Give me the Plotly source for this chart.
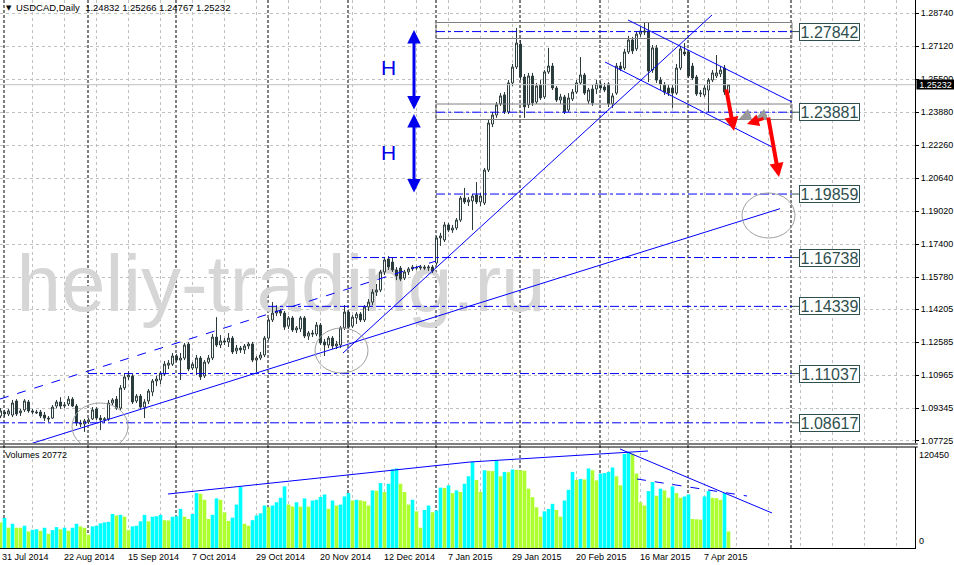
import plotly.graph_objects as go

# ---------------- data ----------------
open_ = [
1.0895, 1.0915, 1.0905, 1.0900, 1.0969, 1.0911, 1.0925, 1.0964, 1.0920, 1.0915,
1.0915, 1.0900, 1.0885, 1.0885, 1.0944, 1.0964, 1.0944, 1.0954, 1.0978, 1.0944,
1.0861, 1.0856, 1.0866, 1.0881, 1.0930, 1.0885, 1.0876, 1.0881, 1.0959, 1.0978,
1.0934, 1.1033, 1.1087, 1.1092, 1.0969, 1.0993, 1.0939, 1.0969, 1.1013, 1.1067,
1.1072, 1.1101, 1.1145, 1.1150, 1.1190, 1.1170, 1.1180, 1.1249, 1.1131, 1.1131,
1.1180, 1.1092, 1.1160, 1.1180, 1.1283, 1.1244, 1.1264, 1.1259, 1.1278, 1.1215,
1.1229, 1.1220, 1.1239, 1.1249, 1.1170, 1.1180, 1.1195, 1.1278, 1.1367, 1.1401,
1.1411, 1.1401, 1.1337, 1.1377, 1.1318, 1.1323, 1.1377, 1.1288, 1.1303, 1.1298,
1.1342, 1.1259, 1.1244, 1.1278, 1.1239, 1.1244, 1.1328, 1.1406, 1.1337, 1.1377,
1.1396, 1.1367, 1.1431, 1.1455, 1.1504, 1.1514, 1.1603, 1.1667, 1.1652, 1.1613,
1.1622, 1.1573, 1.1603, 1.1618, 1.1622, 1.1622, 1.1627, 1.1622, 1.1627, 1.1647,
1.1770, 1.1760, 1.1834, 1.1809, 1.1819, 1.1858, 1.1966, 1.1947, 1.1952, 1.1981,
1.1947, 1.1942, 1.2104, 1.2330, 1.2374, 1.2429, 1.2473, 1.2389, 1.2532, 1.2610,
1.2723, 1.2561, 1.2424, 1.2566, 1.2438, 1.2522, 1.2463, 1.2586, 1.2615, 1.2507,
1.2448, 1.2463, 1.2399, 1.2453, 1.2487, 1.2532, 1.2571, 1.2443, 1.2502, 1.2502,
1.2527, 1.2512, 1.2527, 1.2429, 1.2482, 1.2615, 1.2605, 1.2684, 1.2743, 1.2699,
1.2772, 1.2787, 1.2787, 1.2595, 1.2704, 1.2546, 1.2522, 1.2507, 1.2507, 1.2482,
1.2605, 1.2684, 1.2684, 1.2615, 1.2561, 1.2478, 1.2473, 1.2497, 1.2546, 1.2566,
1.2576, 1.2605, 1.24832]

high = [
1.0934, 1.0925, 1.0930, 1.0974, 1.0978, 1.0930, 1.0978, 1.0974, 1.0930, 1.0925,
1.0925, 1.0915, 1.0895, 1.0949, 1.0974, 1.0988, 1.0964, 1.0993, 1.0988, 1.0954,
1.0876, 1.0881, 1.0885, 1.0939, 1.0939, 1.0900, 1.0890, 1.0974, 1.0983, 1.0993,
1.1047, 1.1101, 1.1116, 1.1101, 1.1003, 1.1003, 1.0978, 1.1028, 1.1077, 1.1092,
1.1116, 1.1165, 1.1170, 1.1205, 1.1200, 1.1205, 1.1254, 1.1259, 1.1160, 1.1195,
1.1190, 1.1170, 1.1195, 1.1298, 1.1381, 1.1293, 1.1278, 1.1303, 1.1288, 1.1244,
1.1239, 1.1249, 1.1259, 1.1259, 1.1190, 1.1210, 1.1288, 1.1377, 1.1455, 1.1440,
1.1421, 1.1411, 1.1386, 1.1386, 1.1337, 1.1386, 1.1386, 1.1313, 1.1318, 1.1357,
1.1352, 1.1274, 1.1288, 1.1288, 1.1264, 1.1337, 1.1440, 1.1416, 1.1391, 1.1406,
1.1406, 1.1440, 1.1470, 1.1519, 1.1544, 1.1613, 1.1677, 1.1681, 1.1672, 1.1627,
1.1632, 1.1613, 1.1627, 1.1637, 1.1632, 1.1637, 1.1637, 1.1637, 1.1637, 1.1780,
1.1795, 1.1849, 1.1844, 1.1834, 1.1868, 1.1976, 1.2016, 1.1971, 1.1986, 1.2045,
1.1991, 1.2114, 1.2350, 1.2389, 1.2438, 1.2482, 1.2487, 1.2546, 1.2625, 1.2802,
1.2743, 1.2576, 1.2581, 1.2581, 1.2532, 1.2546, 1.2595, 1.2704, 1.2630, 1.2517,
1.2478, 1.2473, 1.2482, 1.2502, 1.2546, 1.2659, 1.2581, 1.2507, 1.2522, 1.2546,
1.2541, 1.2532, 1.2536, 1.2482, 1.2630, 1.2635, 1.2699, 1.2763, 1.2758, 1.2787,
1.2807, 1.2831, 1.2831, 1.2718, 1.2718, 1.2561, 1.2536, 1.2522, 1.2522, 1.2625,
1.2713, 1.2728, 1.2694, 1.2630, 1.2571, 1.2497, 1.2522, 1.2556, 1.2595, 1.2669,
1.2615, 1.2620, 1.25266]

low = [
1.0885, 1.0890, 1.0895, 1.0890, 1.0895, 1.0895, 1.0915, 1.0911, 1.0905, 1.0905,
1.0885, 1.0871, 1.0866, 1.0881, 1.0934, 1.0930, 1.0934, 1.0944, 1.0939, 1.0846,
1.0841, 1.0817, 1.0856, 1.0876, 1.0876, 1.0826, 1.0861, 1.0871, 1.0949, 1.0925,
1.0925, 1.1023, 1.1072, 1.0954, 1.0959, 1.0930, 1.0885, 1.0954, 1.0993, 1.1042,
1.1052, 1.1092, 1.1126, 1.1141, 1.1160, 1.1072, 1.1170, 1.1116, 1.1121, 1.1096,
1.1072, 1.1082, 1.1150, 1.1170, 1.1234, 1.1229, 1.1244, 1.1234, 1.1200, 1.1200,
1.1205, 1.1200, 1.1224, 1.1160, 1.1111, 1.1170, 1.1185, 1.1269, 1.1357, 1.1386,
1.1386, 1.1318, 1.1323, 1.1308, 1.1303, 1.1308, 1.1278, 1.1269, 1.1283, 1.1288,
1.1244, 1.1190, 1.1229, 1.1224, 1.1224, 1.1229, 1.1318, 1.1323, 1.1328, 1.1347,
1.1357, 1.1357, 1.1411, 1.1440, 1.1485, 1.1504, 1.1588, 1.1613, 1.1603, 1.1563,
1.1558, 1.1563, 1.1588, 1.1608, 1.1613, 1.1613, 1.1613, 1.1608, 1.1598, 1.1637,
1.1731, 1.1750, 1.1799, 1.1795, 1.1809, 1.1849, 1.1937, 1.1927, 1.1809, 1.1937,
1.1927, 1.1932, 1.2094, 1.2315, 1.2360, 1.2419, 1.2379, 1.2379, 1.2517, 1.2600,
1.2546, 1.2360, 1.2409, 1.2419, 1.2429, 1.2448, 1.2453, 1.2576, 1.2497, 1.2438,
1.2429, 1.2379, 1.2389, 1.2443, 1.2478, 1.2522, 1.2473, 1.2429, 1.2419, 1.2478,
1.2497, 1.2487, 1.2414, 1.2409, 1.2473, 1.2590, 1.2595, 1.2674, 1.2674, 1.2689,
1.2758, 1.2767, 1.2536, 1.2581, 1.2532, 1.2497, 1.2473, 1.2468, 1.2409, 1.2473,
1.2595, 1.2664, 1.2556, 1.2546, 1.2468, 1.2463, 1.2463, 1.2389, 1.2536, 1.2556,
1.2561, 1.2473, 1.24767]

close = [
1.0920, 1.0905, 1.0920, 1.0959, 1.0905, 1.0920, 1.0969, 1.0920, 1.0915, 1.0911,
1.0895, 1.0885, 1.0881, 1.0939, 1.0964, 1.0944, 1.0949, 1.0978, 1.0944, 1.0861,
1.0856, 1.0871, 1.0876, 1.0925, 1.0885, 1.0876, 1.0881, 1.0959, 1.0974, 1.0934,
1.1033, 1.1087, 1.1096, 1.0964, 1.0993, 1.0939, 1.0964, 1.1018, 1.1067, 1.1077,
1.1106, 1.1150, 1.1155, 1.1190, 1.1170, 1.1180, 1.1244, 1.1126, 1.1150, 1.1180,
1.1087, 1.1160, 1.1180, 1.1283, 1.1244, 1.1264, 1.1259, 1.1278, 1.1210, 1.1229,
1.1220, 1.1239, 1.1249, 1.1170, 1.1180, 1.1195, 1.1278, 1.1367, 1.1401, 1.1411,
1.1401, 1.1332, 1.1377, 1.1318, 1.1328, 1.1377, 1.1288, 1.1303, 1.1298, 1.1342,
1.1254, 1.1244, 1.1278, 1.1239, 1.1249, 1.1328, 1.1406, 1.1332, 1.1381, 1.1396,
1.1367, 1.1431, 1.1455, 1.1504, 1.1514, 1.1603, 1.1662, 1.1627, 1.1613, 1.1583,
1.1568, 1.1603, 1.1618, 1.1627, 1.1625, 1.1627, 1.1622, 1.1627, 1.1608, 1.1770,
1.1780, 1.1834, 1.1809, 1.1819, 1.1858, 1.1966, 1.1947, 1.1957, 1.1976, 1.1947,
1.1976, 1.2104, 1.2335, 1.2374, 1.2424, 1.2468, 1.2389, 1.2532, 1.2610, 1.2728,
1.2561, 1.2414, 1.2566, 1.2434, 1.2517, 1.2458, 1.2586, 1.2615, 1.2507, 1.2448,
1.2463, 1.2389, 1.2458, 1.2487, 1.2532, 1.2571, 1.2482, 1.2497, 1.2434, 1.2527,
1.2507, 1.2497, 1.2429, 1.2468, 1.2615, 1.2600, 1.2684, 1.2743, 1.2689, 1.2772,
1.2787, 1.2782, 1.2590, 1.2704, 1.2546, 1.2527, 1.2487, 1.2482, 1.2482, 1.2605,
1.2699, 1.2674, 1.2566, 1.2556, 1.2478, 1.2482, 1.2507, 1.2546, 1.2581, 1.2581,
1.2595, 1.2487, 1.25232]

volume = [
32100, 37600, 25400, 30400, 25400, 25400, 27900, 20700, 22800, 23500,
21600, 25400, 17800, 22400, 26200, 23500, 25400, 21600, 25400, 30400,
27100, 25400, 16500, 27100, 27900, 30900, 32100, 32800, 42700, 40800,
41600, 39300, 22400, 27100, 27900, 33400, 41600, 33400, 39300, 39800,
41600, 34900, 34500, 39300, 39800, 49100, 39300, 36400, 42700, 68900,
68000, 60500, 36400, 41600, 62200, 60500, 44800, 34000, 38100, 54500,
76500, 30400, 27900, 34900, 40800, 43500, 53300, 51200, 53300, 57400,
63000, 77300, 54500, 52000, 57400, 52000, 62200, 52000, 59600, 60500,
64100, 67200, 49100, 59600, 53300, 54500, 64700, 68900, 59600, 60500,
59800, 58700, 53300, 72300, 71800, 81500, 70200, 80600, 98500, 99800,
80600, 70200, 54500, 60500, 46000, 25400, 47700, 53300, 44800, 46900,
75700, 75200, 78600, 68900, 72300, 70200, 80600, 90000, 108200, 85400,
70200, 97500, 96800, 96500, 109400, 90000, 95500, 95000, 98500, 98000,
97600, 97000, 74400, 63800, 51100, 39300, 46000, 49100, 55400, 47700,
39300, 59600, 73000, 95500, 85400, 86700, 86000, 99800, 97600, 84900,
93400, 93900, 95500, 101000, 90000, 78600, 117900, 120450, 118400, 93400,
57400, 53300, 71400, 82800, 65500, 74400, 72300, 63000, 77300, 68900,
63000, 64700, 67200, 36400, 36000, 35600, 64700, 71400, 63000, 62500,
60500, 68900, 20772]

date_labels = ["31 Jul 2014", "22 Aug 2014", "15 Sep 2014", "7 Oct 2014", "29 Oct 2014",
               "20 Nov 2014", "12 Dec 2014", "7 Jan 2015", "29 Jan 2015", "20 Feb 2015",
               "16 Mar 2015", "7 Apr 2015"]
date_label_bars = [0, 16, 32, 48, 64, 80, 96, 112, 128, 144, 160, 176]
month_start_bars = [1, 22, 44, 67, 87, 109, 130, 150, 172, 197.75]

price_ticks = [1.28740, 1.27120, 1.25500, 1.23880, 1.22260, 1.20640, 1.19020,
               1.17400, 1.15780, 1.14205, 1.12585, 1.10965, 1.09345, 1.07725]
level_values = [1.27842, 1.23881, 1.19859, 1.16738, 1.14339, 1.11037, 1.08617]
level_labels = ["1.27842", "1.23881", "1.19859", "1.16738", "1.14339", "1.11037", "1.08617"]
last_ohlc = "1.24832 1.25266 1.24767 1.25232"
last_volume = 20772
volume_max_label = 120450

# ---------------- geometry helpers (screen px -> axis units) ----------------
Y_TOP = 1.29394
P_PER_PX = 0.0004914
V_PER_PX = 120450 / 96.0
PLOT_W = 915.0


def bx(px):
    return (px - 0.5) / 4.0


def pp(py):
    return Y_TOP - P_PER_PX * py


def vv(py):
    return (548 - py) * V_PER_PX


n = len(close)
bars = list(range(n))

CANDLE = "#2b3b3b"
CYAN = "#00FFFF"
LIME = "#ADFF2F"
BLUE = "#0000FF"
GRID = "#c0c0c0"
LABEL = "#2F4F4F"
FONT = "Liberation Sans, Arial, sans-serif"

vol_colors = [LIME] + [CYAN if volume[i] > volume[i - 1] else LIME for i in range(1, n)]

fig = go.Figure()

# watermark on the base subplot (below the candles)
fig.add_trace(go.Scatter(
    x=[bx(281)], y=[pp(291)], mode="text", text=["heliy-trading.ru"],
    textfont=dict(size=80, color="#d6d6d6", family=FONT),
    xaxis="x", yaxis="y", showlegend=False, hoverinfo="skip"))

fig.add_trace(go.Candlestick(
    x=bars, open=open_, high=high, low=low, close=close,
    increasing=dict(line=dict(color=CANDLE, width=1), fillcolor="white"),
    decreasing=dict(line=dict(color=CANDLE, width=1), fillcolor=CANDLE),
    whiskerwidth=0, xaxis="x", yaxis="y3", showlegend=False, hoverinfo="skip"))

fig.add_trace(go.Bar(
    x=bars, y=volume, marker=dict(color=vol_colors, line=dict(width=0)),
    xaxis="x", yaxis="y2", showlegend=False, hoverinfo="skip"))

y_range = [Y_TOP - P_PER_PX * 443, Y_TOP]
main_dom = [(548 - 443) / 548, 1]
vol_dom = [0, (548 - 447) / 548]

grid_ticks = [8 * k - 0.125 for k in range(0, 29)]

fig.update_layout(
    width=954, height=565,
    margin=dict(l=0, r=39, t=0, b=17),
    paper_bgcolor="white", plot_bgcolor="white",
    bargap=0.1, showlegend=False,
    font=dict(family=FONT, size=9, color="black"),
    xaxis=dict(domain=[0, 1], range=[-0.125, 228.625], anchor="y2",
               showgrid=True, gridcolor=GRID, griddash="3px,3px", gridwidth=1,
               tickvals=grid_ticks, showticklabels=False, ticks="",
               showline=True, linecolor="black", linewidth=1, zeroline=False,
               rangeslider=dict(visible=False), fixedrange=True),
    yaxis=dict(domain=main_dom, range=y_range, side="right", anchor="x",
               tickvals=price_ticks, ticktext=[f"{v:.5f}" for v in price_ticks],
               tickfont=dict(size=9, color="black", family=FONT),
               ticks="outside", ticklen=3, tickcolor="black",
               showgrid=True, gridcolor=GRID, griddash="3px,3px", gridwidth=1,
               showline=True, linecolor="black", linewidth=1, zeroline=False,
               fixedrange=True),
    yaxis3=dict(domain=main_dom, range=y_range, overlaying="y", side="right",
                anchor="x", visible=False, showgrid=False, zeroline=False,
                fixedrange=True),
    yaxis2=dict(domain=vol_dom, range=[0, 101 * V_PER_PX], side="right", anchor="x",
                showgrid=False, showticklabels=False, ticks="",
                showline=True, linecolor="black", linewidth=1, zeroline=False,
                fixedrange=True),
)

shapes = []
ann = []

# month separators
for b in month_start_bars:
    shapes.append(dict(type="line", xref="x", yref="paper", x0=b - 0.125, x1=b - 0.125,
                       y0=0, y1=1, line=dict(color="black", width=1, dash="3px,2px"),
                       layer="below"))

# bid line
shapes.append(dict(type="line", xref="paper", yref="y", x0=0, x1=1,
                   y0=close[-1], y1=close[-1], line=dict(color=GRID, width=1)))

# panel separator (double line)
for ypx in (444, 447):
    shapes.append(dict(type="line", xref="paper", yref="paper", x0=0, x1=1.003,
                       y0=(548 - ypx) / 548, y1=(548 - ypx) / 548,
                       line=dict(color="black", width=1)))

# gray rectangles around two levels
for (ya, yb) in ((22.5, 38.5), (104, 119.5)):
    shapes.append(dict(type="rect", xref="x", yref="y", x0=bx(436), x1=bx(792),
                       y0=pp(yb), y1=pp(ya), line=dict(color="#808080", width=1)))

# horizontal levels with labels
level_start_px = [436, 436, 436, 352, 268, 88, 0]
for val, lab, sx in zip(level_values, level_labels, level_start_px):
    shapes.append(dict(type="line", xref="x", yref="y", x0=bx(sx), x1=bx(792),
                       y0=val, y1=val, line=dict(color=BLUE, width=1, dash="dashdot")))
    shapes.append(dict(type="line", xref="x", yref="y", x0=bx(792), x1=bx(799),
                       y0=val, y1=val, line=dict(color=LABEL, width=1)))
    ann.append(dict(x=bx(829.5), y=val, xref="x", yref="y3", text=lab, showarrow=False,
                    font=dict(size=16, color=LABEL, family=FONT),
                    bgcolor="white", bordercolor=LABEL, borderwidth=1, borderpad=1,
                    width=57, height=14, xanchor="center", yanchor="middle"))

# trend lines (price panel)
line_defs = [
    ((30, 444), (780, 208.7), "solid"),
    ((0, 399), (436, 261), "dash"),
    ((343, 353), (712, 15), "solid"),
    ((628, 20), (792, 102), "solid"),
    ((605, 62), (772, 147), "solid"),
]
for (p0, p1, dsh) in line_defs:
    shapes.append(dict(type="line", xref="x", yref="y", x0=bx(p0[0]), y0=pp(p0[1]),
                       x1=bx(p1[0]), y1=pp(p1[1]),
                       line=dict(color=BLUE, width=1, dash=dsh)))

# ellipses
for (xa, xb, ya, yb) in ((72, 128, 403, 450), (315, 368, 328, 373), (742, 795, 193, 238)):
    shapes.append(dict(type="circle", xref="x", yref="y", x0=bx(xa), x1=bx(xb),
                       y0=pp(yb), y1=pp(ya), line=dict(color="#a0a0a0", width=1)))

# volume trend lines
vol_lines = [
    ((168, 494), (470, 462), "solid"),
    ((470, 462), (648, 451), "solid"),
    ((620, 449), (772, 513), "solid"),
    ((637, 479), (747, 496), "dash"),
]
for (p0, p1, dsh) in vol_lines:
    shapes.append(dict(type="line", xref="x", yref="y2", x0=bx(p0[0]), y0=vv(p0[1]),
                       x1=bx(p1[0]), y1=vv(p1[1]),
                       line=dict(color=BLUE, width=1, dash=dsh)))

# H double arrows
for (ytop, ybot) in ((30, 111), (114, 194)):
    ann.append(dict(x=bx(414), y=pp(ytop), ax=bx(414), ay=pp(ybot), xref="x", yref="y3",
                    axref="x", ayref="y3", text="", showarrow=True,
                    arrowside="end+start", arrowhead=2, startarrowhead=2,
                    arrowsize=0.9, startarrowsize=0.9, arrowwidth=3, arrowcolor="#0000EE",
                    standoff=0, startstandoff=0))
for ymid in (67, 152):
    ann.append(dict(x=bx(388), y=pp(ymid), xref="x", yref="y3", text="H",
                    showarrow=False, font=dict(size=21, color="#0000EE", family=FONT)))

# gray + red arrows
arrow_defs = [
    ((768, 114), (755, 119), "#999999", 3, 0.8),
    ((752, 114), (739, 119), "#999999", 3, 0.8),
    ((726, 88), (734, 131), "#FF0000", 4, 0.7),
    ((765, 118), (747, 124), "#FF0000", 3, 0.8),
    ((768, 116), (779, 177), "#FF0000", 4, 0.7),
]
for (t, h, col, w, sz) in arrow_defs:
    ann.append(dict(x=bx(h[0]), y=pp(h[1]), ax=bx(t[0]), ay=pp(t[1]), xref="x", yref="y3",
                    axref="x", ayref="y3", text="", showarrow=True, arrowhead=2,
                    arrowsize=sz, arrowwidth=w, arrowcolor=col, standoff=0))

# current price box on the axis
ann.append(dict(x=1, y=close[-1], xref="paper", yref="y3", text=f"{close[-1]:.5f}",
                showarrow=False, xanchor="left", yanchor="middle", xshift=1,
                bgcolor="black", font=dict(size=9, color="white", family=FONT),
                borderpad=0, width=37, height=9))

# header texts
ann.append(dict(x=4 / PLOT_W, y=(548 - 8) / 548, xref="paper", yref="paper", text="▼",
                showarrow=False, xanchor="left", yanchor="middle",
                font=dict(size=7, color="black", family="DejaVu Sans")))
ann.append(dict(x=14 / PLOT_W, y=(548 - 8) / 548, xref="paper", yref="paper",
                text="USDCAD,Daily  " + last_ohlc, showarrow=False,
                xanchor="left", yanchor="middle",
                font=dict(size=9.5, color="black", family=FONT)))
ann.append(dict(x=3 / PLOT_W, y=(548 - 455) / 548, xref="paper", yref="paper",
                text=f"Volumes {last_volume}", showarrow=False,
                xanchor="left", yanchor="middle", font=dict(size=9, color="black", family=FONT)))
ann.append(dict(x=1, y=(548 - 455) / 548, xref="paper", yref="paper",
                text=str(volume_max_label), showarrow=False, xanchor="left", xshift=2,
                yanchor="middle", font=dict(size=9, color="black", family=FONT)))
ann.append(dict(x=1, y=(548 - 541) / 548, xref="paper", yref="paper",
                text="0", showarrow=False, xanchor="left", xshift=2,
                yanchor="middle", font=dict(size=9, color="black", family=FONT)))

# date labels (left edge at the bar position, like the terminal)
for b, lab in zip(date_label_bars, date_labels):
    xpx = max(0.0, 4 * b - 2)
    ann.append(dict(x=xpx / PLOT_W, y=(548 - 557) / 548, xref="paper", yref="paper",
                    text=lab, showarrow=False, xanchor="left", yanchor="middle",
                    font=dict(size=9, color="black", family=FONT)))

fig.update_layout(shapes=shapes, annotations=ann)
fig.write_html("out.html", config={"displayModeBar": False},
               post_script="document.body.style.margin='0';document.body.style.padding='0';")
